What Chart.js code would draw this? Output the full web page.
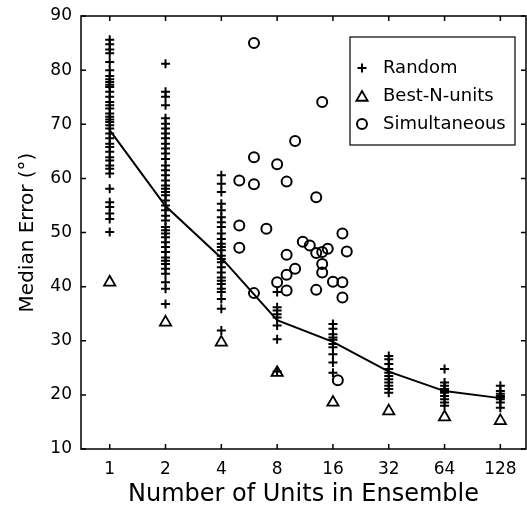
<!DOCTYPE html>
<html>
<head>
<meta charset="utf-8">
<script src="https://cdn.jsdelivr.net/npm/chart.js@4.4.0/dist/chart.umd.min.js"></script>
<style>
  html, body { margin: 0; padding: 0; background: #fff; }
  canvas { display: block; }
</style>
</head>
<body>
<canvas id="ensembleChart" width="527" height="514"></canvas>
<script>
// Units in ensemble (x axis, log spaced)
const unitCounts = [1, 2, 4, 8, 16, 32, 64, 128];

// Random ensembles: median error per draw, one list per ensemble size
const rand1 = [85.6, 84.8, 83.8, 83.1, 81.5, 80.0, 78.9, 78.3, 77.8, 77.3, 76.9, 76.0, 75.1, 74.1, 73.5, 72.9, 72.0, 71.4, 70.9, 70.4, 69.8, 69.2, 68.3, 67.4, 66.4, 65.8, 64.9, 63.9, 63.3, 62.4, 61.8, 60.9, 58.1, 55.6, 54.7, 53.5, 52.5, 50.1];
const rand2 = [81.2, 76.0, 75.1, 73.5, 71.1, 70.1, 69.2, 68.3, 67.4, 66.4, 65.5, 64.6, 63.6, 62.4, 61.5, 60.6, 59.6, 58.7, 58.1, 57.5, 56.9, 55.9, 55.0, 54.1, 53.1, 52.2, 51.0, 50.4, 49.8, 49.1, 48.2, 47.3, 46.4, 45.4, 44.8, 44.2, 43.3, 42.4, 40.8, 39.6, 36.8];
const rand4 = [60.6, 59.0, 57.5, 55.3, 54.1, 52.8, 51.9, 51.0, 49.8, 48.8, 47.9, 47.3, 46.7, 45.7, 45.1, 44.5, 43.6, 42.6, 41.7, 41.1, 40.5, 39.6, 39.0, 37.7, 35.9, 31.9];
const rand8 = [39.0, 36.2, 35.6, 34.9, 34.3, 32.8, 30.3, 24.3];
const rand16 = [33.1, 32.2, 31.2, 30.6, 30.2, 29.4, 28.8, 27.5, 26.0, 24.1];
const rand32 = [27.2, 26.6, 25.7, 24.8, 24.1, 23.5, 22.9, 22.3, 21.7, 21.1, 20.4];
const rand64 = [24.8, 22.3, 21.7, 21.1, 20.7, 20.4, 19.8, 19.2, 18.6, 18.0];
const rand128 = [21.7, 20.7, 20.2, 19.8, 19.5, 19.2, 18.6, 17.6];

// mean of the random ensembles (solid line)
const meanError = [68.9, 54.9, 45.3, 33.8, 29.8, 24.3, 20.7, 19.4];

// Best-N-units
const bestNError = [40.8, 33.4, 29.7, 24.1, 18.6, 17.0, 15.9, 15.2];

// Simultaneous recordings
const simulUnits = [6, 14, 10, 6, 8, 5, 6, 9, 13, 5, 7, 18, 5, 11, 12, 9, 13, 14, 15, 19, 10, 14, 14, 9, 8, 16, 18, 9, 13, 18, 6, 17];
const simulError = [85.0, 74.1, 66.9, 63.9, 62.6, 59.6, 58.9, 59.4, 56.5, 51.3, 50.7, 49.8, 47.2, 48.3, 47.6, 45.9, 46.2, 46.4, 47.0, 46.5, 43.3, 44.2, 42.6, 42.2, 40.8, 40.9, 40.8, 39.3, 39.4, 38.0, 38.8, 22.7];

const yTicks = [10, 20, 30, 40, 50, 60, 70, 80, 90];

// build point lists
const randomLists = [rand1, rand2, rand4, rand8, rand16, rand32, rand64, rand128];
const randomPoints = [];
randomLists.forEach((list, i) => {
    list.forEach(v => randomPoints.push({ x: unitCounts[i], y: v }));
});
const meanPoints = unitCounts.map((n, i) => ({ x: n, y: meanError[i] }));
const bestPoints = unitCounts.map((n, i) => ({ x: n, y: bestNError[i] }));
const simulPoints = simulUnits.map((n, i) => ({ x: n, y: simulError[i] }));

Chart.defaults.font.family = "'DejaVu Sans', sans-serif";
Chart.defaults.color = '#000';

// box frame, inward ticks and the boxed legend
const frameAndLegend = {
    id: 'frameAndLegend',
    afterDatasetsDraw(chart) {
        const { ctx, chartArea: a, scales: { x, y } } = chart;
        ctx.save();
        ctx.strokeStyle = '#000';
        ctx.lineWidth = 1.5;
        ctx.strokeRect(a.left, a.top, a.right - a.left, a.bottom - a.top);

        ctx.beginPath();
        y.ticks.forEach(t => {
            const py = y.getPixelForValue(t.value);
            ctx.moveTo(a.left, py); ctx.lineTo(a.left + 5, py);
            ctx.moveTo(a.right, py); ctx.lineTo(a.right - 5, py);
        });
        x.ticks.forEach(t => {
            const px = x.getPixelForValue(t.value);
            ctx.moveTo(px, a.bottom); ctx.lineTo(px, a.bottom - 5);
            ctx.moveTo(px, a.top); ctx.lineTo(px, a.top + 5);
        });
        ctx.stroke();

        // legend
        const boxW = 165, boxH = 108;
        const bx = a.right - 11 - boxW;
        const by = a.top + 21;
        ctx.fillStyle = '#fff';
        ctx.fillRect(bx, by, boxW, boxH);
        ctx.lineWidth = 1.2;
        ctx.strokeRect(bx, by, boxW, boxH);

        const items = chart.data.datasets.filter(d => d.label !== 'Mean');
        ctx.font = "18px 'DejaVu Sans', sans-serif";
        ctx.textBaseline = 'middle';
        ctx.textAlign = 'left';
        items.forEach((d, i) => {
            const cy = by + 31 + i * 28;
            ctx.strokeStyle = '#000';
            ctx.fillStyle = 'rgba(0,0,0,0)';
            ctx.lineWidth = d.pointBorderWidth;
            Chart.helpers.drawPoint(ctx, {
                pointStyle: d.pointStyle,
                radius: d.pointRadius,
                rotation: 0,
                borderWidth: d.pointBorderWidth
            }, bx + 12, cy + (d.pointStyle === 'triangle' ? 1.5 : 0));
            ctx.fillStyle = '#000';
            ctx.fillText(d.label, bx + 33, cy);
        });
        ctx.restore();
    }
};

const chart = new Chart(document.getElementById('ensembleChart').getContext('2d'), {
    type: 'scatter',
    data: {
        datasets: [
            {
                label: 'Random',
                data: randomPoints,
                pointStyle: 'cross',
                pointRadius: 4.5,
                pointBorderWidth: 2,
                borderColor: '#000',
                backgroundColor: 'rgba(0,0,0,0)'
            },
            {
                label: 'Best-N-units',
                data: bestPoints,
                pointStyle: 'triangle',
                pointRadius: 6.5,
                pointBorderWidth: 1.8,
                borderColor: '#000',
                backgroundColor: 'rgba(0,0,0,0)'
            },
            {
                label: 'Simultaneous',
                data: simulPoints,
                pointStyle: 'circle',
                pointRadius: 5,
                pointBorderWidth: 2,
                borderColor: '#000',
                backgroundColor: 'rgba(0,0,0,0)'
            },
            {
                type: 'line',
                label: 'Mean',
                data: meanPoints,
                borderColor: '#000',
                borderWidth: 2,
                pointRadius: 0,
                fill: false,
                tension: 0
            }
        ]
    },
    options: {
        responsive: false,
        animation: false,
        devicePixelRatio: 1,
        layout: { autoPadding: false, padding: { left: 16, top: 16, right: 1, bottom: 5 } },
        plugins: {
            legend: { display: false },
            tooltip: { enabled: false }
        },
        scales: {
            x: {
                type: 'logarithmic',
                min: 0.7,
                max: 176,
                afterBuildTicks: (scale) => {
                    scale.ticks = unitCounts.map(v => ({ value: v }));
                },
                afterFit: (scale) => {
                    scale.height = 60;
                    scale.paddingLeft = 0;
                    scale.paddingRight = 0;
                },
                grid: { display: false, drawTicks: false },
                border: { display: false },
                ticks: {
                    padding: 10,
                    maxRotation: 0,
                    autoSkip: false,
                    font: { size: 17 },
                    callback: (v) => String(v)
                },
                title: {
                    display: true,
                    text: 'Number of Units in Ensemble',
                    font: { size: 24 },
                    padding: 0
                }
            },
            y: {
                min: 10,
                max: 90,
                afterBuildTicks: (scale) => {
                    scale.ticks = yTicks.map(v => ({ value: v }));
                },
                afterFit: (scale) => {
                    scale.width = 65;
                    scale.paddingTop = 0;
                    scale.paddingBottom = 0;
                },
                grid: { display: false, drawTicks: false },
                border: { display: false },
                ticks: {
                    padding: 9,
                    font: { size: 17 }
                },
                title: {
                    display: true,
                    text: 'Median Error (°)',
                    font: { size: 20 },
                    padding: 0
                }
            }
        }
    },
    plugins: [frameAndLegend]
});
</script>
</body>
</html>
